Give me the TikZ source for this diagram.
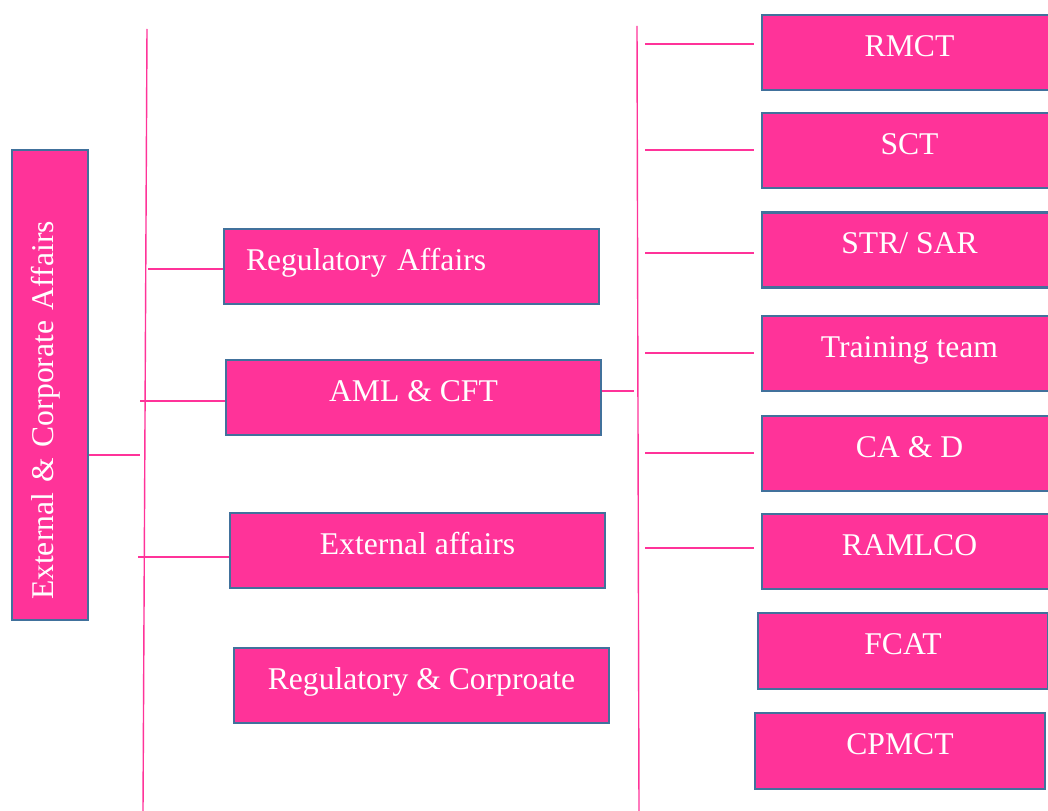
\documentclass[tikz,border=0pt]{standalone}
\usepackage{fontspec}
\setmainfont{Liberation Serif}
\usepackage{xcolor}

\definecolor{boxpink}{HTML}{FF3399}
\definecolor{boxedge}{HTML}{41719C}

\tikzset{
    box/.style={draw=boxedge,line width=1.3pt,fill=boxpink,text=white,
        font=\fontsize{18}{21}\selectfont,inner sep=0pt,
        minimum height=1.5cm,text height=12.5pt,text depth=8.5pt},
    link/.style={draw=boxpink,line width=0.8pt}
}

\begin{document}
\begin{tikzpicture}[x=0.02cm,y=-0.02cm]
    \useasboundingbox (0,0) rectangle (1048,811);
    % main lines
    \coordinate (ltop) at (147,29);
    \coordinate (lbot) at (143,811);
    \coordinate (rtop) at (637,26);
    \coordinate (rbot) at (639,811);
    \draw [link] (ltop) -- (lbot);
    \draw [link] (rtop) -- (rbot);
    % left box
    \node [box,rotate=90,minimum width=9.4cm,minimum height=1.52cm,text width=8.6cm,align=left] (eca) at (50,385) {External \& Corporate Affairs};
    % middle boxes
    \node [box,minimum width=7.5cm,text width=6.62cm,align=left] (ra) at (411.5,266.5) {Regulatory Affairs};
    \node [box,minimum width=7.5cm] (aml) at (413.5,397.5) {AML \& CFT};
    \node [box,minimum width=7.5cm] (ea) at (417.5,550.5) {External affairs};
    \node [box,minimum width=7.5cm] (rc) at (421.5,685.5) {Regulatory \& Corproate};
    % right boxes
    \node [box,minimum width=5.9cm] (rmct) at (909.5,52.5) {RMCT};
    \node [box,minimum width=5.9cm] (sct) at (909.5,150.5) {SCT};
    \node [box,minimum width=5.9cm] (str) at (909.5,250) {STR/ SAR};
    \node [box,minimum width=5.9cm] (train) at (909.5,353.5) {Training team};
    \node [box,minimum width=5.9cm] (cad) at (909.5,453.5) {CA \& D};
    \node [box,minimum width=5.9cm] (ramlco) at (909.5,551.5) {RAMLCO};
    \node [box,minimum width=5.81cm,minimum height=1.52cm] (fcat) at (903,651) {FCAT};
    \node [box,minimum width=5.8cm,minimum height=1.52cm] (cpmct) at (900,751) {CPMCT};
    % connectors
    \coordinate (l0) at (140,455);
    \draw [link] (eca.south |- l0) -- (l0);
    \foreach \n/\x/\y in {ra/148/269, aml/140/401, ea/138/557} {
        \draw [link] (\x,\y) -- (\n.west |- \x,\y);
    }
    \coordinate (r0) at (634,391);
    \draw [link] (aml.east |- r0) -- (r0);
    \foreach \n/\y in {rmct/44, sct/150, str/253, train/353, cad/453, ramlco/548} {
        \draw [link,shorten >=0.14cm] (645,\y) -- (\n.west |- 645,\y);
    }
\end{tikzpicture}
\end{document}
